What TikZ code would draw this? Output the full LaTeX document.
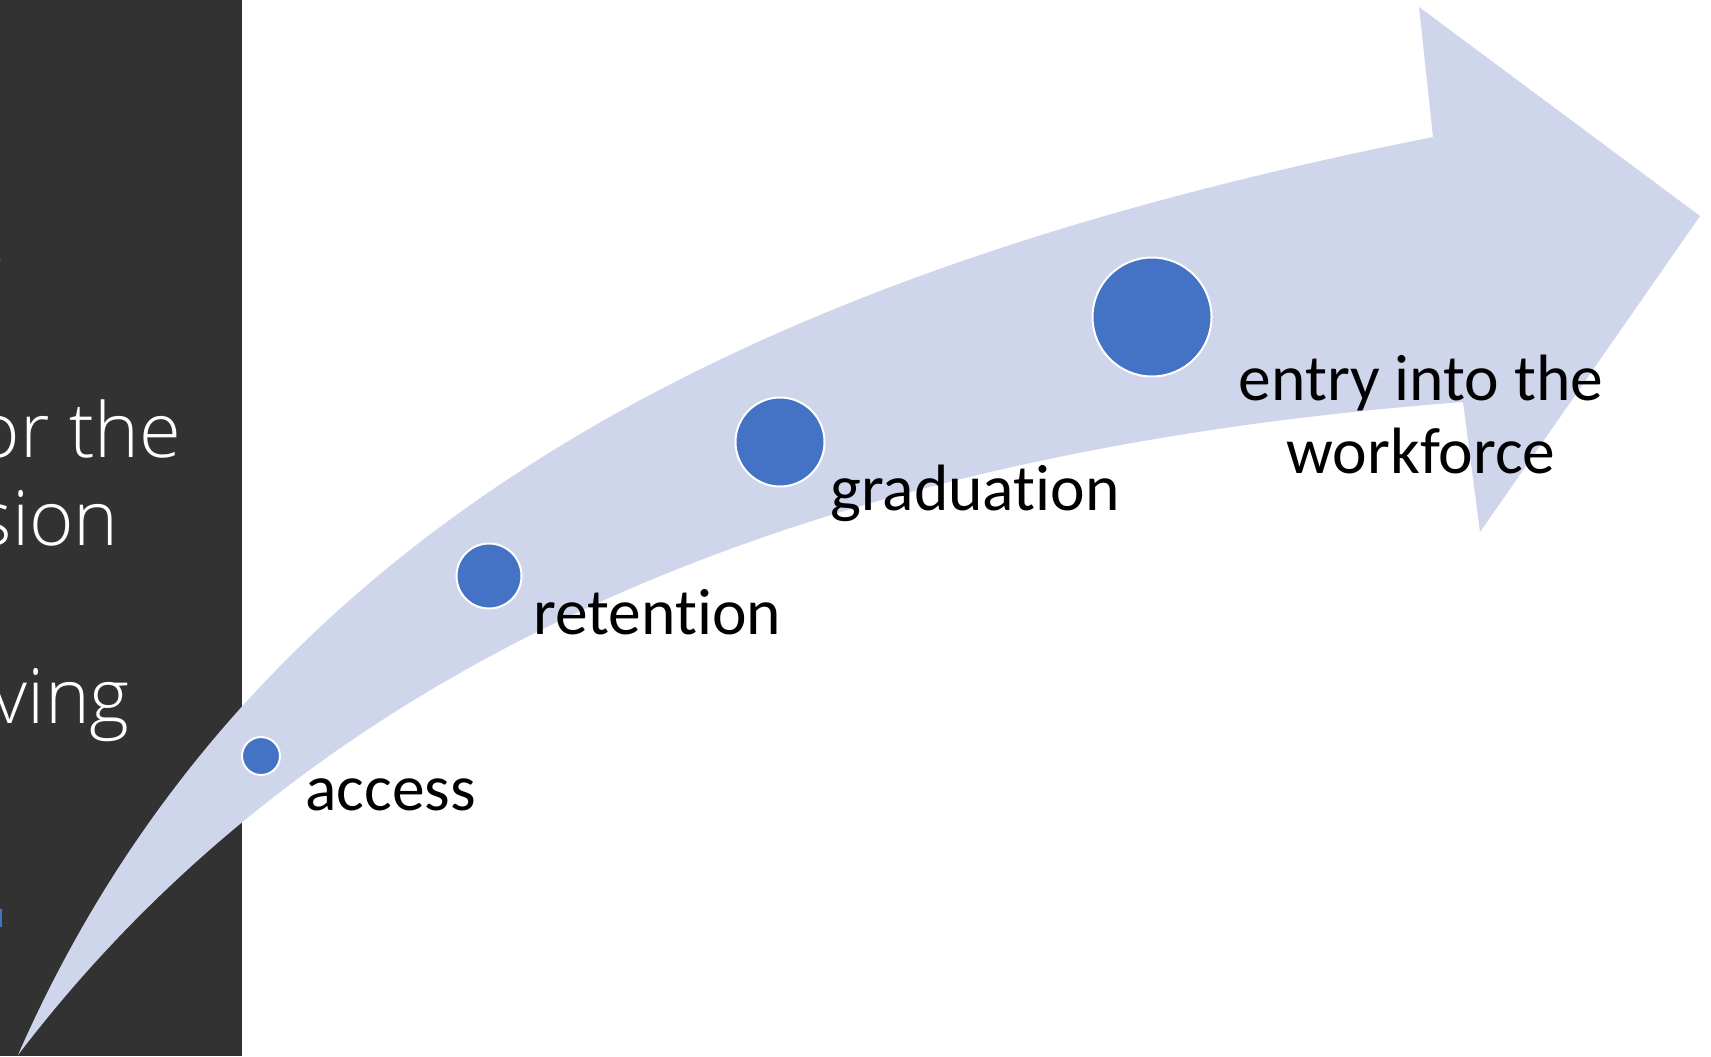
\documentclass[tikz,border=0pt]{standalone}
\usepackage{fontspec}
\setmainfont{Carlito}[Ligatures=NoCommon]
\newfontfamily\panelfont{Open Sans Light}
\usepackage{xcolor}
\usetikzlibrary{positioning}
\definecolor{panelgris}{HTML}{323232}
\definecolor{bande}{HTML}{CFD5EA}
\definecolor{pointbleu}{HTML}{4472C4}

\begin{document}
\begin{tikzpicture}[x=0.5pt, y=-0.5pt,
		point/.style={circle, fill=pointbleu, draw=white, line width=1pt, inner sep=0pt},
		etiquette/.style={font=\fontsize{32.75}{36.5}\selectfont, inner sep=0pt, anchor=base west},
		panneau/.style={font=\panelfont\fontsize{38}{44}\selectfont, text=white, inner sep=0pt, anchor=base east}
		]
		\useasboundingbox (0,0) rectangle (1711,1056);
		\fill[white] (0,0) rectangle (1711,1056);
		
		% Le panneau sombre
		\fill[panelgris] (0,0) rectangle (242,1056);
		\node[panneau] (po) at (5,281) {o};
		\node[panneau] (pthe) at (182,457) {or the};
		\node[panneau] (psion) at (119,545) {sion};
		\node[panneau] (pving) at (130,723) {ving};
		\fill[pointbleu] (0,909) rectangle (2,927);
		
		% La flèche courbe
		\fill[bande] (18,1055) .. controls (270,480) and (833,257) .. (1433,137)
			-- (1419,7) -- (1700,216) -- (1480,532) -- (1463,402)
			.. controls (963,440) and (380,580) .. (18,1055) -- cycle;
		
		% Les points
		\node[point, minimum size=19pt] (acces) at (261,756) {};
		\node[point, minimum size=32.5pt] (retention) at (489,576) {};
		\node[point, minimum size=44.5pt] (diplome) at (780,442) {};
		\node[point, minimum size=59.5pt] (emploi) at (1152,317) {};
		
		% Les étiquettes
		\node[etiquette] (lacces) at (305,810) {access};
		\node[etiquette] (lretention) at (533,634) {retention};
		\node[etiquette] (ldiplome) at (830,510) {graduation};
		\node[etiquette, align=center, anchor=base] (lemploi) at (1421,473) {entry into the\\workforce};
	\end{tikzpicture}
\end{document}
